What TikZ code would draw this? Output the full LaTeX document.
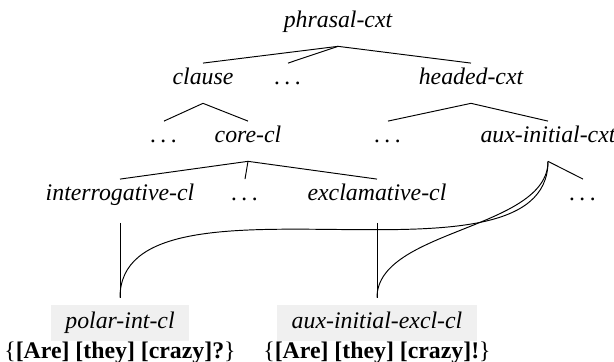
\documentclass[tikz,border=0pt]{standalone}
\usepackage{fontspec}
\setmainfont{Liberation Serif}
\usetikzlibrary{positioning}
\definecolor{leafgray}{gray}{0.94}
\newcommand\sdots{.\kern1.9pt.\kern1.9pt.}

\begin{document}
\begin{tikzpicture}[
  x=0.42pt,y=-0.42pt,
  type/.style={font=\itshape,inner sep=2pt,text height=7pt,text depth=2pt,anchor=base},
  leaf/.style={type,fill=leafgray,inner xsep=6pt,inner ysep=3pt},
  example/.style={inner sep=0pt},
  branch/.style={thin},
  link/.style={thin,out=90,in=-90,looseness=0.8}
]
\useasboundingbox (0,0) rectangle (614,362);

\node[type] (phrasal) at (338,28) {phrasal-cxt};

\node[type] (clause) at (203,85) {clause};
\node[type] (dotsA) at (288,85) {\sdots};
\node[type] (headed) at (471,85) {headed-cxt};

\node[type] (dotsB) at (164,143) {\sdots};
\node[type] (core) at (248,143) {core-cl};
\node[type] (dotsC) at (388,143) {\sdots};
\node[type] (auxcxt) at (548,143) {aux-initial-cxt};

\node[type] (interr) at (120,201) {interrogative-cl};
\node[type] (dotsD) at (245,201) {\sdots};
\node[type] (excl) at (377,201) {exclamative-cl};
\node[type] (dotsE) at (583,201) {\sdots};

\node[leaf] (polar) at (120,329) {polar-int-cl};
\node[leaf] (auxexcl) at (377,329) {aux-initial-excl-cl};
\node[example,below=0pt of polar] (polarex) {\{\textbf{[Are] [they] [crazy]?}\}};
\node[example,below=0pt of auxexcl] (auxexclex) {\{\textbf{[Are] [they] [crazy]!}\}};

% fork points below the mothers
\coordinate (phrasal-fork) at ([yshift=-3.5pt]phrasal.south);
\coordinate (clause-fork) at ([yshift=-3.5pt]clause.south);
\coordinate (headed-fork) at ([yshift=-3.5pt]headed.south);
\coordinate (core-fork) at ([yshift=-3.5pt]core.south);
\coordinate (aux-fork) at ([yshift=-3.5pt]auxcxt.south);
\coordinate (polar-top) at ([yshift=3pt]polar.north);
\coordinate (auxexcl-top) at ([yshift=3pt]auxexcl.north);

\draw[branch] (phrasal-fork) -- (clause.north);
\draw[branch] (phrasal-fork) -- (dotsA.north);
\draw[branch] (phrasal-fork) -- (headed.north);

\draw[branch] (clause-fork) -- (dotsB.north);
\draw[branch] (clause-fork) -- (core.north);
\draw[branch] (headed-fork) -- (dotsC.north);
\draw[branch] (headed-fork) -- (auxcxt.north);

\draw[branch] (core-fork) -- (interr.north);
\draw[branch] (core-fork) -- (dotsD.north);
\draw[branch] (core-fork) -- (excl.north);
\draw[branch] (aux-fork) -- (dotsE.north);

\draw[branch,shorten <=5pt] (interr.south) -- (polar-top);
\draw[branch,shorten <=5pt] (excl.south) -- (auxexcl-top);

\draw[link] (polar-top) to (aux-fork);
\draw[link] (auxexcl-top) to (aux-fork);

\end{tikzpicture}
\end{document}
